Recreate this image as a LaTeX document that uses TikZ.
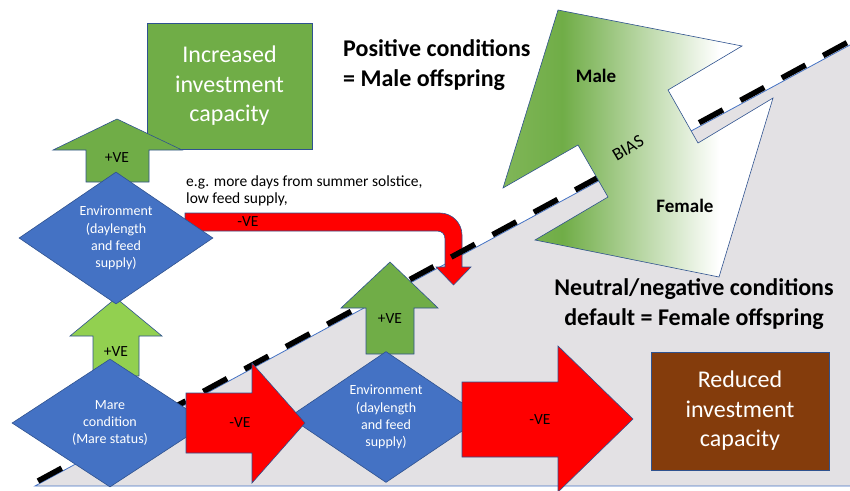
\documentclass[tikz,border=0pt]{standalone}
\usepackage{fontspec}
\setmainfont{Carlito}
\usepackage{tikz}
\usetikzlibrary{shapes.geometric,positioning}
\definecolor{officegreen}{HTML}{70AD47}
\definecolor{lightgreen}{HTML}{92D050}
\definecolor{officeblue}{HTML}{4472C4}
\definecolor{edgeblue}{HTML}{2F528F}
\definecolor{rustbrown}{HTML}{843C0C}
\definecolor{slopegrey}{RGB}{227,225,228}
\definecolor{biaslight}{RGB}{128,182,88}
\pgfdeclarehorizontalshading{biasshade}{100bp}{color(0bp)=(biaslight); color(25bp)=(biaslight); color(36bp)=(officegreen); color(65bp)=(white); color(100bp)=(white)}

\begin{document}
\begin{tikzpicture}[x=1pt,y=-1pt,
  env node/.style={diamond,aspect=1.5,draw=edgeblue,line width=0.6pt,fill=officeblue,text=white,align=center,inner sep=0pt,font=\fontsize{14}{17.3}\selectfont},
  cap box/.style={rectangle,draw=edgeblue,line width=0.6pt,text=white,align=center,inner sep=0pt,font=\fontsize{24}{29.5}\selectfont},
  block arrow/.style={draw=edgeblue,line width=0.6pt},
  ve label/.style={inner sep=0pt,font=\fontsize{15.5}{18}\selectfont},
  cond text/.style={inner sep=0pt,font=\fontsize{24}{29.5}\selectfont\bfseries}]
\useasboundingbox (0,0) rectangle (850,490);
% slope background
\coordinate (s0) at (35,486);
\coordinate (s1) at (850,45);
\coordinate (s2) at (850,486);
\fill[slopegrey] (s0) -- (s1) -- (s2) -- cycle;
\draw[officeblue,line width=0.8pt] (s1) -- (s0) -- (s2);
% bent -VE arrow
\draw[block arrow,fill=red] (185,213) -- (440,213) .. controls (452,213) and (462,223) .. (462,235) -- (462,267) -- (471,267) -- (453.5,285) -- (436,267) -- (445,267) -- (445,239) .. controls (445,234) and (442,231) .. (437,231) -- (185,231) -- cycle;
\coordinate (d0) at (38,481);
\coordinate (d1) at (850,41);
\draw[line width=5.5pt,dash pattern=on 27pt off 20pt] (d0) -- (d1);
% bias arrow
\shadedraw[shading=biasshade,draw=edgeblue,line width=0.6pt] (558,10) -- (742,46) -- (668,90) -- (698,143) -- (773,98) -- (719,277) -- (535,240) -- (608,197) -- (578,145) -- (503,188) -- cycle;
\begin{scope}[every node/.style={inner sep=0pt,font=\fontsize{19}{22}\selectfont\bfseries}]
\node (male) at (596,76) {Male};
\node (female) at (685,206) {Female};
\node[font=\fontsize{18}{22}\selectfont,rotate=31] (bias) at (628,148) {BIAS};
\end{scope}
% boxes and block arrows
\node[cap box,fill=officegreen,minimum width=165pt,minimum height=126pt] (gain) at (229.5,86) {Increased\\investment\\capacity};
\draw[block arrow,fill=officegreen] (86,182) -- (86,150) -- (53,150) -- (117,119) -- (182,150) -- (149,150) -- (149,182) -- cycle;
\draw[block arrow,fill=lightgreen] (93,376) -- (93,336) -- (70,336) -- (116,298) -- (162,336) -- (139,336) -- (139,376) -- cycle;
\draw[block arrow,fill=officegreen] (366,354) -- (366,308) -- (341,308) -- (390,262) -- (438,308) -- (414,308) -- (414,354) -- cycle;
\node[env node,minimum width=194pt,minimum height=132pt] (env1) at (116,238) {Environment\\(daylength\\and feed\\supply)};
\node[env node,minimum width=196pt,minimum height=128pt] (mare) at (110,423) {Mare\\condition\\(Mare status)};
\node[env node,minimum width=194pt,minimum height=131pt] (env2) at (386,417) {Environment\\(daylength\\and feed\\supply)};
\draw[block arrow,fill=red] (186,393) -- (252,393) -- (252,363) -- (305,423) -- (252,483) -- (252,453) -- (186,453) -- cycle;
\draw[block arrow,fill=red] (462,382) -- (558,382) -- (558,346) -- (633,419) -- (558,492) -- (558,457) -- (462,457) -- cycle;
\node[cap box,fill=rustbrown,minimum width=178pt,minimum height=118pt] (loss) at (740,411) {Reduced\\investment\\capacity};
% labels
\node[ve label] (ve1) at (117,158) {+VE};
\node[ve label] (ve2) at (116,352) {+VE};
\node[ve label] (ve3) at (390,319) {+VE};
\node[ve label] (ve4) at (240,423) {-VE};
\node[ve label] (ve5) at (540,420) {-VE};
\node[ve label] (ve6) at (248,222) {-VE};
\node[inner sep=0pt,anchor=west,align=left,font=\fontsize{15.5}{17.5}\selectfont] (eg) at (186,191) {e.g. more days from summer solstice,\\low feed supply,};
\node[cond text,anchor=west,align=left] (pos) at (343,65) {Positive conditions\\= Male offspring};
\node[cond text,align=center] (neg) at (694,304) {Neutral/negative conditions\\default = Female offspring};
\end{tikzpicture}
\end{document}
